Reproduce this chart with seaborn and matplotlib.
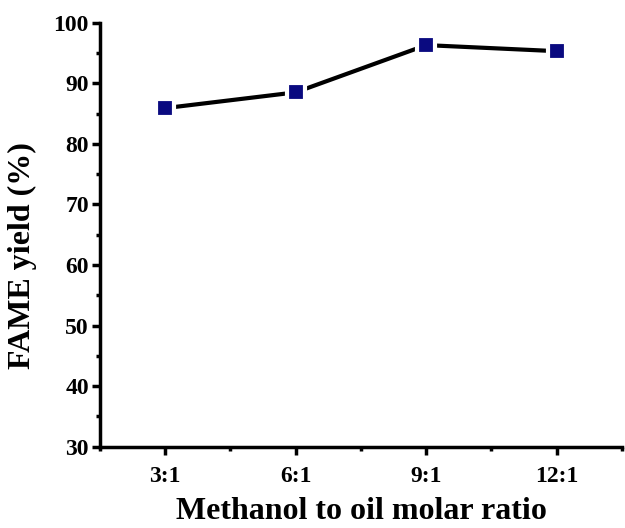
import matplotlib
matplotlib.use("Agg")
import matplotlib.pyplot as plt
import seaborn as sns
import numpy as np
from matplotlib.ticker import MultipleLocator, FixedLocator

categories = ["3:1", "6:1", "9:1", "12:1"]
fame_yield = [85.9, 88.5, 96.3, 95.3]

sns.set_theme(style="ticks")
plt.rcParams['font.family'] = ['Liberation Serif', 'DejaVu Serif']
plt.rcParams['font.weight'] = 'bold'
plt.rcParams['text.color'] = 'black'
plt.rcParams['axes.labelcolor'] = 'black'

fig = plt.figure(figsize=(6.25, 5.28), dpi=100)
ax = fig.add_axes([0.16, 0.154, 0.835, 0.803])

pos = np.arange(len(categories))
sns.lineplot(x=pos, y=fame_yield, ax=ax, color="black", linewidth=3,
             marker="s", markersize=13, markerfacecolor="#0A0A80",
             markeredgecolor="white", markeredgewidth=3)

ax.set_xlim(-0.5, len(categories) - 0.5)
ax.set_ylim(30, 100)
ax.set_xticks(pos)
ax.set_xticklabels(categories)
ax.xaxis.set_minor_locator(FixedLocator(np.arange(-0.5, len(categories), 1.0)))
ax.yaxis.set_major_locator(MultipleLocator(10))
ax.yaxis.set_minor_locator(MultipleLocator(5))

for s in ["top", "right"]:
    ax.spines[s].set_visible(False)
for s in ["left", "bottom"]:
    ax.spines[s].set_linewidth(2.5)
    ax.spines[s].set_color("black")

ax.tick_params(axis="both", which="major", direction="out", length=6, width=2.5,
               labelsize=17, colors="black", pad=2)
ax.tick_params(axis="both", which="minor", direction="out", length=3, width=2.5,
               colors="black")
ax.tick_params(axis="x", which="major", pad=8)
for lab in ax.get_xticklabels() + ax.get_yticklabels():
    lab.set_fontweight("bold")

ax.set_xlabel("Methanol to oil molar ratio", fontsize=23, fontweight="bold",
              color="black")
ax.set_ylabel("FAME yield (%)", fontsize=23, fontweight="bold", color="black")
ax.xaxis.set_label_coords(0.5, -0.118)
ax.yaxis.set_label_coords(-0.12, 0.45)
ax.set_facecolor("white")
fig.patch.set_facecolor("white")

fig.savefig("out.png", dpi=100)
